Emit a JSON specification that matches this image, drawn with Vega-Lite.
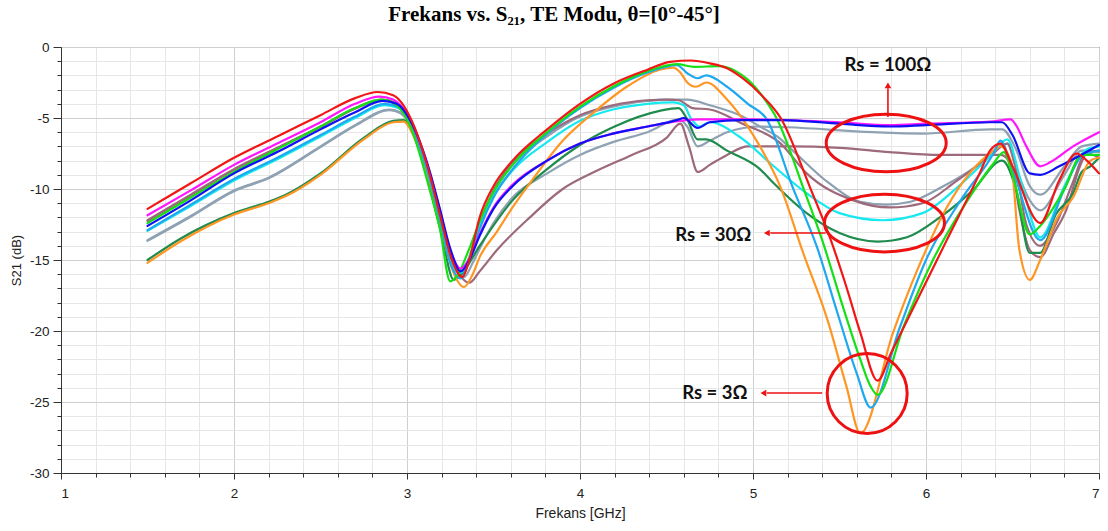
{
  "$schema": "https://vega.github.io/schema/vega-lite/v6.json",
  "width": 1038,
  "height": 426,
  "autosize": "none",
  "padding": {"left": 61, "top": 47, "right": 9, "bottom": 58},
  "background": "white",
  "title": {"text": "Frekans vs. S₂₁, TE Modu, θ=[0°-45°]", "font": "Liberation Serif", "fontSize": 21, "fontWeight": "bold", "color": "#000", "anchor": "middle", "offset": 15, "dx": -26},
  "config": {"view": {"stroke": "#3a3a3a", "strokeWidth": 1}},
  "datasets": {
    "curves": [
      {"s":"Rs30 c","f":1.5,"v":-13.6},{"s":"Rs30 c","f":1.75,"v":-11.9},{"s":"Rs30 c","f":2.0,"v":-10.1},{"s":"Rs30 c","f":2.2,"v":-9.2},{"s":"Rs30 c","f":2.5,"v":-7.0},{"s":"Rs30 c","f":2.7,"v":-5.5},{"s":"Rs30 c","f":2.9,"v":-4.4},{"s":"Rs30 c","f":2.96,"v":-4.6},{"s":"Rs30 c","f":3.02,"v":-5.5},{"s":"Rs30 c","f":3.13,"v":-9.2},{"s":"Rs30 c","f":3.19,"v":-12.1},{"s":"Rs30 c","f":3.26,"v":-15.3},{"s":"Rs30 c","f":3.32,"v":-16.1},{"s":"Rs30 c","f":3.36,"v":-15.0},{"s":"Rs30 c","f":3.42,"v":-12.6},{"s":"Rs30 c","f":3.5,"v":-10.3},{"s":"Rs30 c","f":3.61,"v":-8.3},{"s":"Rs30 c","f":3.81,"v":-6.3},{"s":"Rs30 c","f":4.0,"v":-4.9},{"s":"Rs30 c","f":4.19,"v":-4.2},{"s":"Rs30 c","f":4.39,"v":-3.8},{"s":"Rs30 c","f":4.5,"v":-3.7},{"s":"Rs30 c","f":4.62,"v":-3.7},{"s":"Rs30 c","f":4.75,"v":-4.1},{"s":"Rs30 c","f":4.94,"v":-4.9},{"s":"Rs30 c","f":5.04,"v":-5.6},{"s":"Rs30 c","f":5.14,"v":-6.3},{"s":"Rs30 c","f":5.23,"v":-7.3},{"s":"Rs30 c","f":5.43,"v":-9.5},{"s":"Rs30 c","f":5.62,"v":-10.9},{"s":"Rs30 c","f":5.77,"v":-11.1},{"s":"Rs30 c","f":5.91,"v":-10.9},{"s":"Rs30 c","f":6.1,"v":-9.8},{"s":"Rs30 c","f":6.29,"v":-8.4},{"s":"Rs30 c","f":6.43,"v":-7.0},{"s":"Rs30 c","f":6.47,"v":-6.8},{"s":"Rs30 c","f":6.52,"v":-8.5},{"s":"Rs30 c","f":6.6,"v":-10.8},{"s":"Rs30 c","f":6.66,"v":-11.5},{"s":"Rs30 c","f":6.8,"v":-9.0},{"s":"Rs30 c","f":6.9,"v":-7.3},{"s":"Rs30 c","f":7.0,"v":-7.4},

      {"s":"Rs100 c","f":1.5,"v":-13.65},{"s":"Rs100 c","f":1.75,"v":-11.95},{"s":"Rs100 c","f":2.0,"v":-10.15},{"s":"Rs100 c","f":2.2,"v":-9.25},{"s":"Rs100 c","f":2.5,"v":-7.05},{"s":"Rs100 c","f":2.7,"v":-5.55},{"s":"Rs100 c","f":2.9,"v":-4.45},{"s":"Rs100 c","f":2.96,"v":-4.65},{"s":"Rs100 c","f":3.02,"v":-5.5},{"s":"Rs100 c","f":3.13,"v":-9.1},{"s":"Rs100 c","f":3.19,"v":-11.9},{"s":"Rs100 c","f":3.26,"v":-15.0},{"s":"Rs100 c","f":3.33,"v":-16.2},{"s":"Rs100 c","f":3.38,"v":-15.2},{"s":"Rs100 c","f":3.42,"v":-14.2},{"s":"Rs100 c","f":3.5,"v":-12.4},{"s":"Rs100 c","f":3.61,"v":-10.6},{"s":"Rs100 c","f":3.81,"v":-8.9},{"s":"Rs100 c","f":4.0,"v":-7.6},{"s":"Rs100 c","f":4.19,"v":-6.7},{"s":"Rs100 c","f":4.39,"v":-6.0},{"s":"Rs100 c","f":4.57,"v":-5.1},{"s":"Rs100 c","f":4.62,"v":-5.6},{"s":"Rs100 c","f":4.68,"v":-7.0},{"s":"Rs100 c","f":4.75,"v":-6.6},{"s":"Rs100 c","f":4.85,"v":-6.0},{"s":"Rs100 c","f":5.04,"v":-5.6},{"s":"Rs100 c","f":5.2,"v":-5.65},{"s":"Rs100 c","f":5.69,"v":-6.0},{"s":"Rs100 c","f":5.98,"v":-6.1},{"s":"Rs100 c","f":6.37,"v":-5.8},{"s":"Rs100 c","f":6.44,"v":-5.8},{"s":"Rs100 c","f":6.52,"v":-7.2},{"s":"Rs100 c","f":6.6,"v":-9.8},{"s":"Rs100 c","f":6.66,"v":-10.4},{"s":"Rs100 c","f":6.8,"v":-8.4},{"s":"Rs100 c","f":6.9,"v":-7.0},{"s":"Rs100 c","f":7.0,"v":-6.8},

      {"s":"Rs100 d","f":1.5,"v":-12.2},{"s":"Rs100 d","f":1.75,"v":-10.4},{"s":"Rs100 d","f":2.0,"v":-8.6},{"s":"Rs100 d","f":2.25,"v":-7.1},{"s":"Rs100 d","f":2.5,"v":-5.6},{"s":"Rs100 d","f":2.7,"v":-4.3},{"s":"Rs100 d","f":2.85,"v":-3.7},{"s":"Rs100 d","f":2.93,"v":-3.9},{"s":"Rs100 d","f":3.02,"v":-5.2},{"s":"Rs100 d","f":3.13,"v":-8.9},{"s":"Rs100 d","f":3.19,"v":-11.6},{"s":"Rs100 d","f":3.26,"v":-14.8},{"s":"Rs100 d","f":3.36,"v":-16.6},{"s":"Rs100 d","f":3.42,"v":-15.8},{"s":"Rs100 d","f":3.52,"v":-14.3},{"s":"Rs100 d","f":3.71,"v":-12.0},{"s":"Rs100 d","f":3.9,"v":-10.0},{"s":"Rs100 d","f":4.1,"v":-8.7},{"s":"Rs100 d","f":4.3,"v":-7.6},{"s":"Rs100 d","f":4.5,"v":-6.4},{"s":"Rs100 d","f":4.58,"v":-5.4},{"s":"Rs100 d","f":4.63,"v":-7.0},{"s":"Rs100 d","f":4.68,"v":-8.8},{"s":"Rs100 d","f":4.75,"v":-8.3},{"s":"Rs100 d","f":4.85,"v":-7.6},{"s":"Rs100 d","f":4.97,"v":-7.0},{"s":"Rs100 d","f":5.21,"v":-7.0},{"s":"Rs100 d","f":5.5,"v":-7.1},{"s":"Rs100 d","f":5.79,"v":-7.4},{"s":"Rs100 d","f":6.08,"v":-7.6},{"s":"Rs100 d","f":6.43,"v":-7.6},{"s":"Rs100 d","f":6.49,"v":-8.2},{"s":"Rs100 d","f":6.54,"v":-11.5},{"s":"Rs100 d","f":6.6,"v":-14.3},{"s":"Rs100 d","f":6.66,"v":-14.8},{"s":"Rs100 d","f":6.74,"v":-13.1},{"s":"Rs100 d","f":6.81,"v":-11.5},{"s":"Rs100 d","f":6.89,"v":-8.4},{"s":"Rs100 d","f":6.93,"v":-7.5},{"s":"Rs100 d","f":7.0,"v":-7.8},

      {"s":"Rs30 d","f":1.5,"v":-12.25},{"s":"Rs30 d","f":1.75,"v":-10.45},{"s":"Rs30 d","f":2.0,"v":-8.65},{"s":"Rs30 d","f":2.25,"v":-7.15},{"s":"Rs30 d","f":2.5,"v":-5.65},{"s":"Rs30 d","f":2.7,"v":-4.35},{"s":"Rs30 d","f":2.85,"v":-3.75},{"s":"Rs30 d","f":2.93,"v":-3.95},{"s":"Rs30 d","f":3.02,"v":-5.2},{"s":"Rs30 d","f":3.13,"v":-9.0},{"s":"Rs30 d","f":3.19,"v":-12.0},{"s":"Rs30 d","f":3.26,"v":-15.2},{"s":"Rs30 d","f":3.32,"v":-16.0},{"s":"Rs30 d","f":3.36,"v":-14.8},{"s":"Rs30 d","f":3.42,"v":-12.4},{"s":"Rs30 d","f":3.5,"v":-10.1},{"s":"Rs30 d","f":3.61,"v":-8.1},{"s":"Rs30 d","f":3.81,"v":-6.1},{"s":"Rs30 d","f":4.0,"v":-4.8},{"s":"Rs30 d","f":4.19,"v":-4.1},{"s":"Rs30 d","f":4.39,"v":-3.75},{"s":"Rs30 d","f":4.5,"v":-3.7},{"s":"Rs30 d","f":4.57,"v":-3.75},{"s":"Rs30 d","f":4.65,"v":-4.3},{"s":"Rs30 d","f":4.75,"v":-4.4},{"s":"Rs30 d","f":4.94,"v":-5.4},{"s":"Rs30 d","f":5.16,"v":-6.8},{"s":"Rs30 d","f":5.31,"v":-8.9},{"s":"Rs30 d","f":5.58,"v":-10.8},{"s":"Rs30 d","f":5.79,"v":-11.3},{"s":"Rs30 d","f":5.98,"v":-11.0},{"s":"Rs30 d","f":6.18,"v":-9.4},{"s":"Rs30 d","f":6.37,"v":-7.7},{"s":"Rs30 d","f":6.47,"v":-6.8},{"s":"Rs30 d","f":6.52,"v":-8.6},{"s":"Rs30 d","f":6.58,"v":-12.5},{"s":"Rs30 d","f":6.66,"v":-14.0},{"s":"Rs30 d","f":6.75,"v":-12.5},{"s":"Rs30 d","f":6.85,"v":-9.5},{"s":"Rs30 d","f":6.92,"v":-7.5},{"s":"Rs30 d","f":7.0,"v":-7.3},

      {"s":"Rs30 b","f":1.5,"v":-15.0},{"s":"Rs30 b","f":1.69,"v":-13.5},{"s":"Rs30 b","f":2.0,"v":-11.7},{"s":"Rs30 b","f":2.2,"v":-10.9},{"s":"Rs30 b","f":2.3,"v":-10.4},{"s":"Rs30 b","f":2.5,"v":-8.9},{"s":"Rs30 b","f":2.75,"v":-6.4},{"s":"Rs30 b","f":2.92,"v":-5.2},{"s":"Rs30 b","f":2.98,"v":-5.15},{"s":"Rs30 b","f":3.05,"v":-6.5},{"s":"Rs30 b","f":3.13,"v":-9.8},{"s":"Rs30 b","f":3.2,"v":-13.2},{"s":"Rs30 b","f":3.27,"v":-16.4},{"s":"Rs30 b","f":3.32,"v":-15.9},{"s":"Rs30 b","f":3.42,"v":-14.0},{"s":"Rs30 b","f":3.61,"v":-10.8},{"s":"Rs30 b","f":3.81,"v":-8.6},{"s":"Rs30 b","f":4.0,"v":-6.9},{"s":"Rs30 b","f":4.2,"v":-5.6},{"s":"Rs30 b","f":4.46,"v":-4.5},{"s":"Rs30 b","f":4.57,"v":-4.3},{"s":"Rs30 b","f":4.62,"v":-5.1},{"s":"Rs30 b","f":4.68,"v":-6.5},{"s":"Rs30 b","f":4.73,"v":-6.5},{"s":"Rs30 b","f":4.85,"v":-7.3},{"s":"Rs30 b","f":5.04,"v":-8.6},{"s":"Rs30 b","f":5.12,"v":-9.6},{"s":"Rs30 b","f":5.31,"v":-11.7},{"s":"Rs30 b","f":5.5,"v":-13.1},{"s":"Rs30 b","f":5.72,"v":-13.7},{"s":"Rs30 b","f":5.89,"v":-13.4},{"s":"Rs30 b","f":6.08,"v":-12.0},{"s":"Rs30 b","f":6.27,"v":-10.1},{"s":"Rs30 b","f":6.44,"v":-8.0},{"s":"Rs30 b","f":6.52,"v":-10.0},{"s":"Rs30 b","f":6.6,"v":-14.5},{"s":"Rs30 b","f":6.66,"v":-14.5},{"s":"Rs30 b","f":6.75,"v":-11.8},{"s":"Rs30 b","f":6.85,"v":-10.3},{"s":"Rs30 b","f":6.9,"v":-8.8},{"s":"Rs30 b","f":6.95,"v":-8.4},{"s":"Rs30 b","f":7.0,"v":-7.8},

      {"s":"Rs30 a","f":1.5,"v":-12.95},{"s":"Rs30 a","f":1.75,"v":-11.2},{"s":"Rs30 a","f":2.0,"v":-9.4},{"s":"Rs30 a","f":2.25,"v":-7.9},{"s":"Rs30 a","f":2.5,"v":-6.3},{"s":"Rs30 a","f":2.7,"v":-5.0},{"s":"Rs30 a","f":2.87,"v":-4.1},{"s":"Rs30 a","f":2.95,"v":-4.3},{"s":"Rs30 a","f":3.02,"v":-5.3},{"s":"Rs30 a","f":3.13,"v":-9.0},{"s":"Rs30 a","f":3.19,"v":-12.0},{"s":"Rs30 a","f":3.25,"v":-15.0},{"s":"Rs30 a","f":3.31,"v":-15.9},{"s":"Rs30 a","f":3.36,"v":-14.8},{"s":"Rs30 a","f":3.42,"v":-12.6},{"s":"Rs30 a","f":3.5,"v":-10.5},{"s":"Rs30 a","f":3.61,"v":-8.7},{"s":"Rs30 a","f":3.81,"v":-6.7},{"s":"Rs30 a","f":4.0,"v":-5.2},{"s":"Rs30 a","f":4.19,"v":-4.4},{"s":"Rs30 a","f":4.39,"v":-4.0},{"s":"Rs30 a","f":4.54,"v":-3.9},{"s":"Rs30 a","f":4.6,"v":-4.1},{"s":"Rs30 a","f":4.64,"v":-5.0},{"s":"Rs30 a","f":4.69,"v":-5.6},{"s":"Rs30 a","f":4.75,"v":-5.3},{"s":"Rs30 a","f":4.92,"v":-6.3},{"s":"Rs30 a","f":5.12,"v":-8.4},{"s":"Rs30 a","f":5.31,"v":-10.3},{"s":"Rs30 a","f":5.5,"v":-11.7},{"s":"Rs30 a","f":5.75,"v":-12.2},{"s":"Rs30 a","f":5.98,"v":-11.7},{"s":"Rs30 a","f":6.18,"v":-9.9},{"s":"Rs30 a","f":6.37,"v":-7.7},{"s":"Rs30 a","f":6.47,"v":-6.5},{"s":"Rs30 a","f":6.55,"v":-9.5},{"s":"Rs30 a","f":6.66,"v":-13.4},{"s":"Rs30 a","f":6.8,"v":-9.8},{"s":"Rs30 a","f":6.93,"v":-7.2},{"s":"Rs30 a","f":7.0,"v":-7.0},

      {"s":"Rs3 d","f":1.5,"v":-15.2},{"s":"Rs3 d","f":1.69,"v":-13.7},{"s":"Rs3 d","f":2.0,"v":-11.8},{"s":"Rs3 d","f":2.2,"v":-11.0},{"s":"Rs3 d","f":2.3,"v":-10.5},{"s":"Rs3 d","f":2.5,"v":-9.0},{"s":"Rs3 d","f":2.75,"v":-6.5},{"s":"Rs3 d","f":2.92,"v":-5.3},{"s":"Rs3 d","f":2.98,"v":-5.25},{"s":"Rs3 d","f":3.05,"v":-6.6},{"s":"Rs3 d","f":3.13,"v":-9.5},{"s":"Rs3 d","f":3.19,"v":-12.4},{"s":"Rs3 d","f":3.26,"v":-15.6},{"s":"Rs3 d","f":3.33,"v":-16.9},{"s":"Rs3 d","f":3.38,"v":-16.0},{"s":"Rs3 d","f":3.42,"v":-14.8},{"s":"Rs3 d","f":3.52,"v":-13.0},{"s":"Rs3 d","f":3.61,"v":-11.3},{"s":"Rs3 d","f":3.71,"v":-9.6},{"s":"Rs3 d","f":3.9,"v":-6.6},{"s":"Rs3 d","f":4.08,"v":-4.6},{"s":"Rs3 d","f":4.27,"v":-2.8},{"s":"Rs3 d","f":4.46,"v":-1.6},{"s":"Rs3 d","f":4.54,"v":-1.45},{"s":"Rs3 d","f":4.58,"v":-1.8},{"s":"Rs3 d","f":4.62,"v":-2.5},{"s":"Rs3 d","f":4.67,"v":-2.8},{"s":"Rs3 d","f":4.73,"v":-2.5},{"s":"Rs3 d","f":4.85,"v":-3.7},{"s":"Rs3 d","f":4.97,"v":-5.6},{"s":"Rs3 d","f":5.04,"v":-7.0},{"s":"Rs3 d","f":5.16,"v":-9.9},{"s":"Rs3 d","f":5.29,"v":-14.5},{"s":"Rs3 d","f":5.43,"v":-19.2},{"s":"Rs3 d","f":5.54,"v":-23.9},{"s":"Rs3 d","f":5.62,"v":-27.2},{"s":"Rs3 d","f":5.81,"v":-20.1},{"s":"Rs3 d","f":5.95,"v":-15.7},{"s":"Rs3 d","f":6.12,"v":-11.3},{"s":"Rs3 d","f":6.39,"v":-7.3},{"s":"Rs3 d","f":6.43,"v":-7.0},{"s":"Rs3 d","f":6.49,"v":-8.0},{"s":"Rs3 d","f":6.54,"v":-14.3},{"s":"Rs3 d","f":6.6,"v":-16.4},{"s":"Rs3 d","f":6.66,"v":-15.0},{"s":"Rs3 d","f":6.76,"v":-12.0},{"s":"Rs3 d","f":6.85,"v":-10.6},{"s":"Rs3 d","f":6.95,"v":-8.0},{"s":"Rs3 d","f":7.0,"v":-7.8},

      {"s":"Rs3 c","f":1.5,"v":-12.9},{"s":"Rs3 c","f":1.75,"v":-11.1},{"s":"Rs3 c","f":2.0,"v":-9.3},{"s":"Rs3 c","f":2.25,"v":-7.8},{"s":"Rs3 c","f":2.5,"v":-6.2},{"s":"Rs3 c","f":2.7,"v":-4.9},{"s":"Rs3 c","f":2.87,"v":-4.0},{"s":"Rs3 c","f":2.95,"v":-4.2},{"s":"Rs3 c","f":3.02,"v":-5.4},{"s":"Rs3 c","f":3.13,"v":-9.3},{"s":"Rs3 c","f":3.19,"v":-12.2},{"s":"Rs3 c","f":3.25,"v":-15.2},{"s":"Rs3 c","f":3.31,"v":-16.3},{"s":"Rs3 c","f":3.36,"v":-15.0},{"s":"Rs3 c","f":3.42,"v":-12.8},{"s":"Rs3 c","f":3.5,"v":-10.6},{"s":"Rs3 c","f":3.61,"v":-8.6},{"s":"Rs3 c","f":3.81,"v":-6.1},{"s":"Rs3 c","f":4.0,"v":-4.3},{"s":"Rs3 c","f":4.19,"v":-2.9},{"s":"Rs3 c","f":4.39,"v":-1.8},{"s":"Rs3 c","f":4.56,"v":-1.27},{"s":"Rs3 c","f":4.62,"v":-1.85},{"s":"Rs3 c","f":4.68,"v":-2.2},{"s":"Rs3 c","f":4.73,"v":-2.0},{"s":"Rs3 c","f":4.85,"v":-2.8},{"s":"Rs3 c","f":4.97,"v":-4.0},{"s":"Rs3 c","f":5.08,"v":-5.1},{"s":"Rs3 c","f":5.23,"v":-9.9},{"s":"Rs3 c","f":5.37,"v":-14.1},{"s":"Rs3 c","f":5.49,"v":-18.8},{"s":"Rs3 c","f":5.6,"v":-23.0},{"s":"Rs3 c","f":5.68,"v":-25.4},{"s":"Rs3 c","f":5.85,"v":-19.7},{"s":"Rs3 c","f":6.0,"v":-15.0},{"s":"Rs3 c","f":6.2,"v":-10.8},{"s":"Rs3 c","f":6.39,"v":-7.5},{"s":"Rs3 c","f":6.43,"v":-6.6},{"s":"Rs3 c","f":6.5,"v":-8.6},{"s":"Rs3 c","f":6.66,"v":-13.6},{"s":"Rs3 c","f":6.8,"v":-10.0},{"s":"Rs3 c","f":6.9,"v":-7.7},{"s":"Rs3 c","f":7.0,"v":-7.3},

      {"s":"Rs3 b","f":1.5,"v":-12.4},{"s":"Rs3 b","f":1.75,"v":-10.6},{"s":"Rs3 b","f":2.0,"v":-8.8},{"s":"Rs3 b","f":2.25,"v":-7.2},{"s":"Rs3 b","f":2.5,"v":-5.6},{"s":"Rs3 b","f":2.7,"v":-4.3},{"s":"Rs3 b","f":2.85,"v":-3.7},{"s":"Rs3 b","f":2.93,"v":-4.0},{"s":"Rs3 b","f":3.02,"v":-5.6},{"s":"Rs3 b","f":3.13,"v":-10.0},{"s":"Rs3 b","f":3.19,"v":-12.8},{"s":"Rs3 b","f":3.25,"v":-16.5},{"s":"Rs3 b","f":3.29,"v":-16.1},{"s":"Rs3 b","f":3.36,"v":-14.2},{"s":"Rs3 b","f":3.42,"v":-12.3},{"s":"Rs3 b","f":3.5,"v":-10.2},{"s":"Rs3 b","f":3.61,"v":-8.3},{"s":"Rs3 b","f":3.81,"v":-6.0},{"s":"Rs3 b","f":4.0,"v":-4.2},{"s":"Rs3 b","f":4.19,"v":-2.8},{"s":"Rs3 b","f":4.39,"v":-1.7},{"s":"Rs3 b","f":4.56,"v":-1.2},{"s":"Rs3 b","f":4.66,"v":-1.4},{"s":"Rs3 b","f":4.8,"v":-1.35},{"s":"Rs3 b","f":4.9,"v":-1.7},{"s":"Rs3 b","f":4.97,"v":-2.3},{"s":"Rs3 b","f":5.05,"v":-3.4},{"s":"Rs3 b","f":5.14,"v":-5.1},{"s":"Rs3 b","f":5.29,"v":-9.9},{"s":"Rs3 b","f":5.4,"v":-13.6},{"s":"Rs3 b","f":5.52,"v":-18.3},{"s":"Rs3 b","f":5.62,"v":-22.0},{"s":"Rs3 b","f":5.68,"v":-23.9},{"s":"Rs3 b","f":5.72,"v":-24.5},{"s":"Rs3 b","f":5.87,"v":-19.7},{"s":"Rs3 b","f":6.04,"v":-15.0},{"s":"Rs3 b","f":6.24,"v":-10.8},{"s":"Rs3 b","f":6.39,"v":-8.2},{"s":"Rs3 b","f":6.45,"v":-7.4},{"s":"Rs3 b","f":6.5,"v":-9.0},{"s":"Rs3 b","f":6.6,"v":-13.2},{"s":"Rs3 b","f":6.66,"v":-12.6},{"s":"Rs3 b","f":6.8,"v":-10.0},{"s":"Rs3 b","f":6.9,"v":-7.6},{"s":"Rs3 b","f":7.0,"v":-7.6},

      {"s":"Rs100 a","f":1.5,"v":-11.85},{"s":"Rs100 a","f":1.75,"v":-10.1},{"s":"Rs100 a","f":2.0,"v":-8.3},{"s":"Rs100 a","f":2.25,"v":-6.8},{"s":"Rs100 a","f":2.5,"v":-5.3},{"s":"Rs100 a","f":2.7,"v":-4.0},{"s":"Rs100 a","f":2.84,"v":-3.5},{"s":"Rs100 a","f":2.92,"v":-3.7},{"s":"Rs100 a","f":3.02,"v":-5.2},{"s":"Rs100 a","f":3.13,"v":-8.8},{"s":"Rs100 a","f":3.19,"v":-11.5},{"s":"Rs100 a","f":3.25,"v":-14.3},{"s":"Rs100 a","f":3.31,"v":-15.6},{"s":"Rs100 a","f":3.36,"v":-14.9},{"s":"Rs100 a","f":3.42,"v":-13.2},{"s":"Rs100 a","f":3.5,"v":-11.3},{"s":"Rs100 a","f":3.61,"v":-9.7},{"s":"Rs100 a","f":3.81,"v":-8.0},{"s":"Rs100 a","f":4.0,"v":-6.8},{"s":"Rs100 a","f":4.19,"v":-6.1},{"s":"Rs100 a","f":4.39,"v":-5.6},{"s":"Rs100 a","f":4.58,"v":-5.2},{"s":"Rs100 a","f":4.7,"v":-5.1},{"s":"Rs100 a","f":5.0,"v":-5.1},{"s":"Rs100 a","f":5.5,"v":-5.3},{"s":"Rs100 a","f":5.79,"v":-5.5},{"s":"Rs100 a","f":6.0,"v":-5.4},{"s":"Rs100 a","f":6.37,"v":-5.25},{"s":"Rs100 a","f":6.49,"v":-5.1},{"s":"Rs100 a","f":6.52,"v":-5.5},{"s":"Rs100 a","f":6.58,"v":-7.0},{"s":"Rs100 a","f":6.66,"v":-8.4},{"s":"Rs100 a","f":6.72,"v":-8.1},{"s":"Rs100 a","f":6.85,"v":-7.0},{"s":"Rs100 a","f":7.0,"v":-6.0},

      {"s":"Rs100 b","f":1.5,"v":-12.6},{"s":"Rs100 b","f":1.75,"v":-10.8},{"s":"Rs100 b","f":2.0,"v":-8.9},{"s":"Rs100 b","f":2.25,"v":-7.4},{"s":"Rs100 b","f":2.5,"v":-5.8},{"s":"Rs100 b","f":2.7,"v":-4.6},{"s":"Rs100 b","f":2.86,"v":-3.8},{"s":"Rs100 b","f":2.94,"v":-4.0},{"s":"Rs100 b","f":3.02,"v":-5.2},{"s":"Rs100 b","f":3.13,"v":-8.7},{"s":"Rs100 b","f":3.19,"v":-11.4},{"s":"Rs100 b","f":3.25,"v":-14.2},{"s":"Rs100 b","f":3.31,"v":-15.8},{"s":"Rs100 b","f":3.36,"v":-15.0},{"s":"Rs100 b","f":3.42,"v":-13.3},{"s":"Rs100 b","f":3.5,"v":-11.4},{"s":"Rs100 b","f":3.61,"v":-9.8},{"s":"Rs100 b","f":3.81,"v":-8.0},{"s":"Rs100 b","f":4.0,"v":-6.8},{"s":"Rs100 b","f":4.19,"v":-6.1},{"s":"Rs100 b","f":4.39,"v":-5.6},{"s":"Rs100 b","f":4.56,"v":-5.15},{"s":"Rs100 b","f":4.6,"v":-5.0},{"s":"Rs100 b","f":4.68,"v":-5.7},{"s":"Rs100 b","f":4.75,"v":-5.3},{"s":"Rs100 b","f":4.94,"v":-5.15},{"s":"Rs100 b","f":5.16,"v":-5.15},{"s":"Rs100 b","f":5.5,"v":-5.4},{"s":"Rs100 b","f":5.79,"v":-5.6},{"s":"Rs100 b","f":6.0,"v":-5.5},{"s":"Rs100 b","f":6.37,"v":-5.3},{"s":"Rs100 b","f":6.44,"v":-5.3},{"s":"Rs100 b","f":6.5,"v":-6.2},{"s":"Rs100 b","f":6.6,"v":-8.9},{"s":"Rs100 b","f":6.66,"v":-9.0},{"s":"Rs100 b","f":6.77,"v":-8.4},{"s":"Rs100 b","f":7.0,"v":-6.9},

      {"s":"Rs3 a","f":1.5,"v":-11.4},{"s":"Rs3 a","f":1.75,"v":-9.6},{"s":"Rs3 a","f":2.0,"v":-7.8},{"s":"Rs3 a","f":2.25,"v":-6.3},{"s":"Rs3 a","f":2.5,"v":-4.8},{"s":"Rs3 a","f":2.7,"v":-3.6},{"s":"Rs3 a","f":2.83,"v":-3.17},{"s":"Rs3 a","f":2.92,"v":-3.4},{"s":"Rs3 a","f":3.02,"v":-5.0},{"s":"Rs3 a","f":3.13,"v":-8.9},{"s":"Rs3 a","f":3.19,"v":-11.8},{"s":"Rs3 a","f":3.26,"v":-15.0},{"s":"Rs3 a","f":3.32,"v":-16.2},{"s":"Rs3 a","f":3.36,"v":-15.0},{"s":"Rs3 a","f":3.42,"v":-12.0},{"s":"Rs3 a","f":3.5,"v":-9.8},{"s":"Rs3 a","f":3.61,"v":-8.0},{"s":"Rs3 a","f":3.81,"v":-5.8},{"s":"Rs3 a","f":4.0,"v":-4.0},{"s":"Rs3 a","f":4.19,"v":-2.6},{"s":"Rs3 a","f":4.39,"v":-1.6},{"s":"Rs3 a","f":4.52,"v":-1.05},{"s":"Rs3 a","f":4.64,"v":-0.95},{"s":"Rs3 a","f":4.75,"v":-1.15},{"s":"Rs3 a","f":4.85,"v":-1.5},{"s":"Rs3 a","f":4.94,"v":-2.2},{"s":"Rs3 a","f":5.05,"v":-3.4},{"s":"Rs3 a","f":5.16,"v":-5.0},{"s":"Rs3 a","f":5.33,"v":-9.9},{"s":"Rs3 a","f":5.45,"v":-13.6},{"s":"Rs3 a","f":5.54,"v":-16.9},{"s":"Rs3 a","f":5.62,"v":-20.1},{"s":"Rs3 a","f":5.72,"v":-23.5},{"s":"Rs3 a","f":5.8,"v":-21.5},{"s":"Rs3 a","f":5.93,"v":-18.3},{"s":"Rs3 a","f":6.12,"v":-13.6},{"s":"Rs3 a","f":6.31,"v":-8.9},{"s":"Rs3 a","f":6.37,"v":-7.3},{"s":"Rs3 a","f":6.43,"v":-6.8},{"s":"Rs3 a","f":6.5,"v":-8.4},{"s":"Rs3 a","f":6.66,"v":-12.4},{"s":"Rs3 a","f":6.77,"v":-9.4},{"s":"Rs3 a","f":6.87,"v":-7.5},{"s":"Rs3 a","f":6.93,"v":-8.0},{"s":"Rs3 a","f":7.0,"v":-8.9}
    ],
    "rings": [
      {"ring": "Rs = 100Ω", "kind": "oval", "f": 5.77, "v": -6.76},
      {"ring": "Rs = 30Ω", "kind": "oval", "f": 5.76, "v": -12.4},
      {"ring": "Rs = 3Ω", "kind": "round", "f": 5.66, "v": -24.4}
    ],
    "arrows": [
      {"label": "Rs = 100Ω", "f": 5.78, "v": -4.93, "f2": 5.78, "v2": -2.9, "tf": 5.78, "tv": -2.7, "dir": "up"},
      {"label": "Rs = 30Ω", "f": 5.42, "v": -13.1, "f2": 5.1, "v2": -13.1, "tf": 5.08, "tv": -13.1, "dir": "left"},
      {"label": "Rs = 3Ω", "f": 5.4, "v": -24.37, "f2": 5.08, "v2": -24.37, "tf": 5.06, "tv": -24.37, "dir": "left"}
    ],
    "notes": [
      {"label": "Rs = 100Ω", "f": 5.78, "v": -1.27},
      {"label": "Rs = 30Ω", "f": 4.77, "v": -13.24},
      {"label": "Rs = 3Ω", "f": 4.78, "v": -24.37}
    ]
  },
  "layer": [
    {
      "data": {"name": "curves"},
      "mark": {"type": "line", "interpolate": "monotone", "strokeCap": "round", "strokeJoin": "round"},
      "encoding": {
        "x": {"field": "f", "type": "quantitative", "scale": {"domain": [1, 7], "nice": false, "zero": false},
          "axis": {"orient": "bottom", "values": [1.2,1.4,1.6,1.8,2.2,2.4,2.6,2.8,3.2,3.4,3.6,3.8,4.2,4.4,4.6,4.8,5.2,5.4,5.6,5.8,6.2,6.4,6.6,6.8], "labels": false, "domain": false, "grid": true, "gridColor": "#e6e6e6", "tickSize": 4, "tickColor": "#333", "title": null}},
        "y": {"field": "v", "type": "quantitative", "scale": {"domain": [-30, 0], "nice": false, "zero": false},
          "axis": {"orient": "left", "values": [-29,-28,-27,-26,-24,-23,-22,-21,-19,-18,-17,-16,-14,-13,-12,-11,-9,-8,-7,-6,-4,-3,-2,-1], "labels": false, "domain": false, "grid": true, "gridColor": "#e6e6e6", "tickSize": 4, "tickColor": "#333", "title": null}},
        "color": {"field": "s", "type": "nominal", "legend": null,
          "scale": {"domain": ["Rs3 a","Rs3 b","Rs3 c","Rs3 d","Rs30 a","Rs30 b","Rs30 c","Rs30 d","Rs100 a","Rs100 b","Rs100 c","Rs100 d"],
                    "range": ["#f21616","#14e014","#1ea8ef","#ff9624","#16e9ef","#1f8b4d","#8da0b2","#9d6a7b","#ff16ff","#1010f5","#8fa2b4","#9d6a7b"]}},
        "size": {"field": "s", "type": "nominal", "legend": null,
          "scale": {"domain": ["Rs3 a","Rs3 b","Rs3 c","Rs3 d","Rs30 a","Rs30 b","Rs30 c","Rs30 d","Rs100 a","Rs100 b","Rs100 c","Rs100 d"],
                    "range": [2.2,2.2,2.2,2.2,2.2,2.2,2.4,2.2,2.6,3,2.4,2.2]}}
      }
    },
    {
      "data": {"name": "rings"},
      "transform": [{"filter": "datum.kind === 'oval'"}],
      "mark": {"type": "point", "filled": false, "stroke": "#ee1111", "strokeWidth": 3, "opacity": 1, "size": 14400,
               "shape": "M -1 0 C -1 -0.265 -0.552 -0.48 0 -0.48 C 0.552 -0.48 1 -0.265 1 0 C 1 0.265 0.552 0.48 0 0.48 C -0.552 0.48 -1 0.265 -1 0 Z"},
      "encoding": {
        "x": {"field": "f", "type": "quantitative",
          "axis": {"orient": "bottom", "values": [1,2,3,4,5,6,7], "grid": true, "gridColor": "#cfcfcf", "domainColor": "#333", "tickColor": "#333", "tickSize": 6, "labelFont": "Liberation Sans", "labelFontSize": 13.5, "labelColor": "#222", "labelPadding": 7, "labelExpr": "'' + datum.value", "title": "Frekans [GHz]", "titleFont": "Liberation Sans", "titleFontSize": 14, "titleFontWeight": "normal", "titleColor": "#222", "titlePadding": 7}},
        "y": {"field": "v", "type": "quantitative",
          "axis": {"orient": "left", "values": [-30,-25,-20,-15,-10,-5,0], "grid": true, "gridColor": "#cfcfcf", "domainColor": "#333", "tickColor": "#333", "tickSize": 8, "labelFont": "Liberation Sans", "labelFontSize": 13.5, "labelColor": "#222", "labelPadding": 4, "labelExpr": "'' + datum.value", "title": "S21 (dB)", "titleFont": "Liberation Sans", "titleFontSize": 13, "titleFontWeight": "normal", "titleColor": "#222", "titlePadding": 6}}
      }
    },
    {
      "data": {"name": "rings"},
      "transform": [{"filter": "datum.kind === 'round'"}],
      "mark": {"type": "point", "shape": "circle", "filled": false, "stroke": "#ee1111", "strokeWidth": 3, "opacity": 1, "size": 6400},
      "encoding": {
        "x": {"field": "f", "type": "quantitative", "axis": null},
        "y": {"field": "v", "type": "quantitative", "axis": null}
      }
    },
    {
      "data": {"name": "arrows"},
      "mark": {"type": "rule", "color": "#ee1111", "strokeWidth": 1.6},
      "encoding": {
        "x": {"field": "f", "type": "quantitative", "axis": null},
        "y": {"field": "v", "type": "quantitative", "axis": null},
        "x2": {"field": "f2"},
        "y2": {"field": "v2"}
      }
    },
    {
      "data": {"name": "arrows"},
      "mark": {"type": "point", "filled": true, "color": "#ee1111", "opacity": 1, "size": 45},
      "encoding": {
        "x": {"field": "tf", "type": "quantitative", "axis": null},
        "y": {"field": "tv", "type": "quantitative", "axis": null},
        "shape": {"field": "dir", "type": "nominal", "legend": null, "scale": {"domain": ["up", "left"], "range": ["triangle-up", "triangle-left"]}}
      }
    },
    {
      "data": {"name": "notes"},
      "mark": {"type": "text", "font": "Lato", "fontWeight": "bold", "fontSize": 18.5, "color": "#111", "align": "center", "baseline": "middle"},
      "encoding": {
        "x": {"field": "f", "type": "quantitative", "axis": null},
        "y": {"field": "v", "type": "quantitative", "axis": null},
        "text": {"field": "label"}
      }
    }
  ],
  "resolve": {"axis": {"x": "independent", "y": "independent"}}
}
